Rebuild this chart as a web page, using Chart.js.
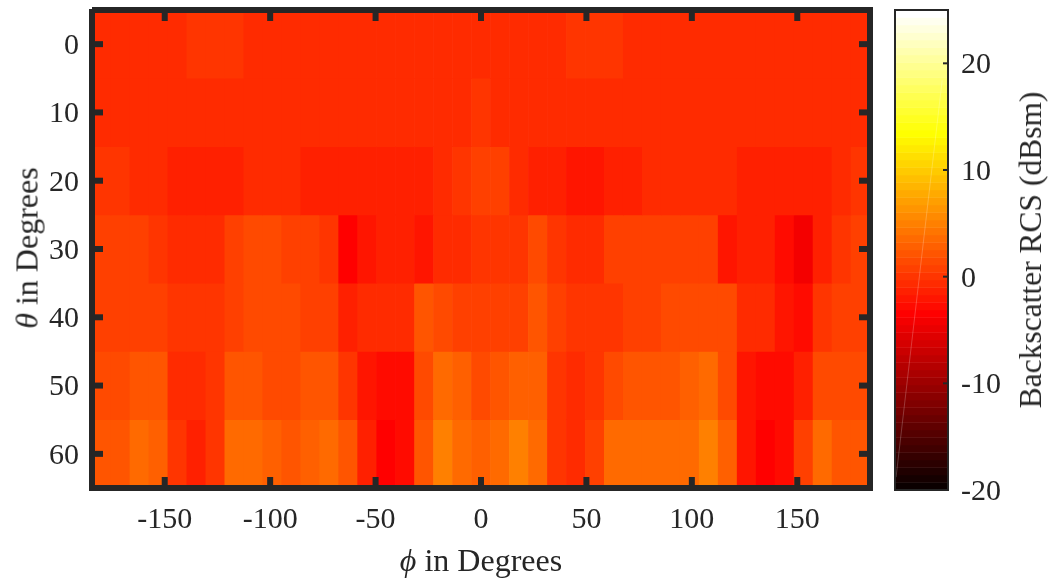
<!DOCTYPE html>
<html>
<head>
<meta charset="utf-8">
<script src="https://cdn.jsdelivr.net/npm/chart.js@4"></script>
<style>
    html, body { margin: 0; padding: 0; background: #fff; overflow: hidden; }
    #page { position: relative; width: 1051px; height: 578px; }
    canvas { position: absolute; top: 0; }
    .axisTitle {
        position: absolute;
        font: 32px "Liberation Serif", serif;
        color: #262626;
        white-space: nowrap;
        transform: translate(-50%, -50%);
    }
    .vertical { transform: translate(-50%, -50%) rotate(-90deg); }
</style>
</head>
<body>
<div id="page">
    <canvas id="heatmap" width="880" height="578" style="left:0"></canvas>
    <canvas id="colorbar" width="171" height="578" style="left:880px"></canvas>
    <div class="axisTitle" style="left:481px;top:560px"><i>ϕ</i> in Degrees</div>
    <div class="axisTitle vertical" style="left:27px;top:248px"><i>θ</i> in Degrees</div>
    <div class="axisTitle vertical" style="left:1031px;top:250px;font-size:31.5px">Backscatter RCS (dBsm)</div>
</div>
<script>
const phiValues = [-180, -171, -162, -153, -144, -135, -126, -117, -108, -99, -90, -81, -72, -63, -54, -45, -36, -27, -18, -9, 0,
    9, 18, 27, 36, 45, 54, 63, 72, 81, 90, 99, 108, 117, 126, 135, 144, 153, 162, 171, 180];
const thetaValues = [0, 10, 20, 30, 40, 50, 60];

const phiTicks = [-150, -100, -50, 0, 50, 100, 150];
const thetaTicks = [0, 10, 20, 30, 40, 50, 60];
const rcsTicks = [-20, -10, 0, 10, 20];

// backscatter RCS in dBsm, one list per theta
const rcsTheta0 = [-0.7, -0.7, -0.7, -0.7, -0.7, 0, 0, 0, -0.7, -0.7, -0.7, -0.7, -0.7, -0.7, -0.7, -0.7, -0.7, -0.7, -0.7, -0.7, -0.7,
    -0.7, -0.7, -0.7, -0.7, 0, 0, 0, -0.7, -0.7, -0.7, -0.7, -0.7, -0.7, -0.7, -0.7, -0.7, -0.7, -0.7, -0.7, -0.7];
const rcsTheta10 = [-0.7, -0.7, -0.7, -0.7, -0.7, -0.7, -0.7, -0.7, -0.7, -0.7, -0.7, -0.7, -0.7, -0.7, -0.7, -0.7, -0.7, -0.7, -0.7, -0.7, 0,
    -0.7, -0.7, -0.7, -0.7, -0.7, -0.7, -0.7, -0.7, -0.7, -0.7, -0.7, -0.7, -0.7, -0.7, -0.7, -0.7, -0.7, -0.7, -0.7, -0.7];
const rcsTheta20 = [0, 0, -0.7, -0.7, -1.4, -1.4, -1.4, -1.4, -0.7, -0.7, -0.7, -1.4, -1.4, -1.4, -1.4, -1.4, -1.4, -1.4, -0.7, 0, 0.7,
    0.7, -0.7, -1.4, -1.4, -2.1, -2.1, -1.4, -1.4, -0.7, -0.7, -0.7, -0.7, -0.7, -1.4, -1.4, -1.4, -1.4, -1.4, -0.7, 0];
const rcsTheta30 = [0.7, 0.7, 0.7, 0, -0.7, -0.7, -0.7, 0.7, 1.4, 1.4, 0.7, 0.7, 0, -3.5, -2.1, -1.4, -1.4, -2.1, -0.7, -0.7, 0,
    0, 0, 1.4, 0, -0.7, -0.7, 0.7, 0.7, 0.7, 0.7, 0.7, 0.7, -2.1, -1.4, -1.4, -2.8, -4.2, -1.4, 0, 0.7];
const rcsTheta40 = [0.7, 0.7, 0.7, 0.7, 0, 0, 0, 0.7, 1.4, 1.4, 1.4, 0.7, 0.7, -1.4, -0.7, -0.7, -0.7, 2.1, 1.4, 0.7, 0.7,
    0.7, 0.7, 2.1, 0.7, 0, 0, 0, 0.7, 0.7, 1.4, 1.4, 1.4, 1.4, -0.7, -0.7, -2.1, -2.8, 0, 0.7, 0.7];
const rcsTheta50 = [1.4, 1.4, 2.1, 2.1, -0.7, -0.7, 0, 2.1, 2.1, 1.4, 1.4, 2.1, 2.1, 0, -2.1, -2.8, -2.8, 1.4, 3.5, 2.8, 1.4,
    2.1, 2.8, 2.8, 0, -0.7, 0, 1.4, 2.1, 2.1, 2.1, 2.8, 3.5, 1.4, -2.1, -2.8, -2.8, -1.4, 1.4, 1.4, 1.4];
const rcsTheta60 = [2.1, 2.1, 3.5, 2.8, 0, -1.4, 0, 3.5, 3.5, 2.8, 2.1, 2.8, 3.5, 2.1, -1.4, -3.5, -2.8, 2.1, 5, 3.5, 2.8,
    3.5, 5, 3.5, 0, -0.7, 0.7, 3.5, 3.5, 3.5, 3.5, 3.5, 5, 2.8, -2.1, -3.5, -2.8, 0.7, 3.5, 2.1, 2.1];
const rcsRows = [rcsTheta0, rcsTheta10, rcsTheta20, rcsTheta30, rcsTheta40, rcsTheta50, rcsTheta60];

const rcsMin = -20;
const rcsMax = 25;
const bandCount = 64;

// faint seam across the colour bar
const seamX = [0.02, 0.89];
const seamY = [-18.8, 18.4];

const frameColor = '#262626';

// matlab hot(64)
const hotColor = (index) => {
    const split = Math.floor(bandCount * 3 / 8);
    const r = Math.min(1, (index + 1) / split);
    const g = Math.max(0, Math.min(1, (index + 1 - split) / split));
    const b = Math.max(0, (index + 1 - 2 * split) / (bandCount - 2 * split));
    return `rgb(${Math.round(r * 255)}, ${Math.round(g * 255)}, ${Math.round(b * 255)})`;
};

const rcsColor = (value) => {
    const index = Math.floor((value - rcsMin) / (rcsMax - rcsMin) * bandCount);
    return hotColor(Math.max(0, Math.min(bandCount - 1, index)));
};

const setTicks = (values) => (scale) => {
    scale.ticks = values.map(value => ({ value: value }));
};

// fixed box for the axis, and no extra room for labels hanging over the ends
const fitAxis = (size) => (scale) => {
    if (scale.isHorizontal()) {
        scale.height = size;
    } else {
        scale.width = size;
    }
    scale.paddingTop = 0;
    scale.paddingBottom = 0;
    scale.paddingLeft = 0;
    scale.paddingRight = 0;
};

const tickFont = { family: '"Liberation Serif", serif', size: 30 };

const line = (ctx, x1, y1, x2, y2) => {
    ctx.beginPath();
    ctx.moveTo(x1, y1);
    ctx.lineTo(x2, y2);
    ctx.stroke();
};

// y labels sit a little high with the middle baseline
const nudgeLabels = {
    id: 'nudgeLabels',
    beforeDraw(chart) {
        chart.scales.y.getLabelItems().forEach(item => {
            item.options.translation[1] += 2;
        });
    }
};

const heatmapFrame = {
    id: 'heatmapFrame',
    afterDatasetsDraw(chart) {
        const { ctx, chartArea: { left, right, top, bottom }, scales: { x, y } } = chart;
        ctx.save();
        ctx.strokeStyle = frameColor;
        ctx.lineWidth = 6;
        x.ticks.forEach(tick => {
            const px = x.getPixelForValue(tick.value);
            line(ctx, px, top, px, top + 11);
            line(ctx, px, bottom, px, bottom - 11);
        });
        y.ticks.forEach(tick => {
            const py = y.getPixelForValue(tick.value);
            line(ctx, left, py, left + 11, py);
            line(ctx, right, py, right - 11, py);
        });
        line(ctx, left, top - 1, left, bottom + 3);
        line(ctx, left - 3, bottom, right + 3, bottom);
        line(ctx, right, top - 3, right, bottom + 3);
        line(ctx, left, top, right + 3, top);
        ctx.restore();
    }
};

const colorbarFrame = {
    id: 'colorbarFrame',
    afterDatasetsDraw(chart) {
        const { ctx, chartArea: { left, right, top, bottom }, scales: { y } } = chart;
        ctx.save();
        ctx.strokeStyle = frameColor;
        ctx.lineWidth = 2;
        y.ticks.forEach(tick => {
            const py = y.getPixelForValue(tick.value);
            line(ctx, right, py, right - 5, py);
        });
        ctx.strokeRect(left, top, right - left, bottom - top);
        ctx.restore();
    }
};

new Chart(document.getElementById('heatmap'), {
    type: 'bar',
    data: {
        datasets: rcsRows.map((row, r) => ({
            label: `theta ${thetaValues[r]}`,
            data: row.map((value, c) => ({ x: phiValues[c], y: [thetaValues[r] - 5, thetaValues[r] + 5] })),
            backgroundColor: row.map(rcsColor),
            barPercentage: 1,
            categoryPercentage: 1,
            grouped: false
        }))
    },
    options: {
        responsive: false,
        animation: false,
        layout: { padding: { top: 10, right: 10 } },
        plugins: { legend: { display: false }, tooltip: { enabled: false } },
        scales: {
            x: {
                type: 'linear',
                offset: false,
                min: -184.5,
                max: 184.5,
                grid: { display: false },
                border: { display: false },
                afterBuildTicks: setTicks(phiTicks),
                afterFit: fitAxis(90),
                ticks: { color: frameColor, font: tickFont, padding: 6, maxRotation: 0, autoSkip: false }
            },
            y: {
                type: 'linear',
                reverse: true,
                min: -5,
                max: 65,
                grid: { display: false },
                border: { display: false },
                afterBuildTicks: setTicks(thetaTicks),
                afterFit: fitAxis(92),
                ticks: { color: frameColor, font: tickFont, padding: 5, autoSkip: false }
            }
        }
    },
    plugins: [nudgeLabels, heatmapFrame]
});

const bandStep = (rcsMax - rcsMin) / bandCount;
const bandIndexes = Array.from({ length: bandCount }, (_, i) => i);

new Chart(document.getElementById('colorbar'), {
    type: 'bar',
    data: {
        datasets: [
            {
                type: 'line',
                label: 'seam',
                data: seamX.map((x, i) => ({ x: x, y: seamY[i] })),
                borderColor: 'rgba(255, 255, 255, 0.22)',
                borderWidth: 1,
                pointRadius: 0,
                order: 0
            },
            {
                label: 'Backscatter RCS (dBsm)',
                data: bandIndexes.map(i => ({ x: 0.5, y: [rcsMin + i * bandStep, rcsMin + (i + 1) * bandStep] })),
                backgroundColor: bandIndexes.map(hotColor),
                barPercentage: 1,
                categoryPercentage: 1,
                order: 1
            }
        ]
    },
    options: {
        responsive: false,
        animation: false,
        layout: { padding: { top: 10, left: 15, bottom: 88 } },
        plugins: { legend: { display: false }, tooltip: { enabled: false } },
        scales: {
            x: { type: 'linear', offset: false, min: 0, max: 1, display: false },
            y: {
                type: 'linear',
                position: 'right',
                min: rcsMin,
                max: rcsMax,
                grid: { display: false },
                border: { display: false },
                afterBuildTicks: setTicks(rcsTicks),
                afterFit: fitAxis(103),
                ticks: { color: frameColor, font: tickFont, padding: 5, autoSkip: false }
            }
        }
    },
    plugins: [nudgeLabels, colorbarFrame]
});
</script>
</body>
</html>
